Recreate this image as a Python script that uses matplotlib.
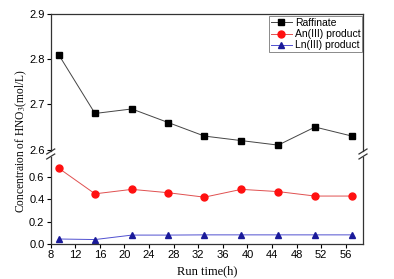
import numpy as np
import matplotlib.pyplot as plt

run_time = [9.3, 15.2, 21.2, 27.1, 33, 39, 45, 51, 57]
raffinate = [2.81, 2.68, 2.69, 2.66, 2.63, 2.62, 2.61, 2.65, 2.63]
an_product = [0.68, 0.45, 0.49, 0.46, 0.42, 0.49, 0.47, 0.43, 0.43]
ln_product = [0.045, 0.04, 0.08, 0.08, 0.082, 0.082, 0.082, 0.082, 0.082]

x_ticks = list(range(8, 57, 4))
top_ticks = [2.6, 2.7, 2.8, 2.9]
bot_ticks = [0.0, 0.2, 0.4, 0.6]

plt.rcParams['font.family'] = ['Liberation Sans', 'DejaVu Sans']
plt.rcParams['font.size'] = 8

fig = plt.figure(figsize=(3.94, 2.79), dpi=100)
left, width = 0.1287, 0.7926
ax_top = fig.add_axes([left, 0.4588, width, 0.491])
ax_bot = fig.add_axes([left, 0.1254, width, 0.3118])

ms = 4.5
lw = 0.7
for ax in (ax_top, ax_bot):
    ax.plot(run_time, raffinate, '-s', color='#444444', mfc='black', mec='black',
            ms=ms, lw=lw, label='Raffinate')
    ax.plot(run_time, an_product, '-o', color='#e05050', mfc='#ff1010', mec='#ff1010',
            ms=ms + 0.5, lw=lw, label='An(III) product')
    ax.plot(run_time, ln_product, '-^', color='#5050d0', mfc='#1a1a9a', mec='#1a1a9a',
            ms=ms + 0.5, lw=lw, label='Ln(III) product')
    ax.set_xlim(8, 58.8)
    ax.tick_params(direction='out', length=3, width=0.8, labelsize=8, pad=1.5)
    for s in ax.spines.values():
        s.set_linewidth(0.9)
        s.set_color('#333333')

ax_top.set_ylim(2.597, 2.9)
ax_top.set_yticks(top_ticks)
ax_top.set_yticklabels(['2.6', '2.7', '2.8', '2.9'])
ax_top.spines['bottom'].set_visible(False)
ax_top.tick_params(axis='x', which='both', bottom=False, labelbottom=False)

ax_bot.set_ylim(0, 0.78)
ax_bot.set_yticks(bot_ticks)
ax_bot.set_yticklabels(['0.0', '0.2', '0.4', '0.6'])
ax_bot.set_xticks(x_ticks)
ax_bot.spines['top'].set_visible(False)

# break marks
fig_w, fig_h = 394, 279
for xb in (left, left + width):
    for yb in (151.5, 156.5):
        xs = [xb - 4 / fig_w, xb + 4 / fig_w]
        ys = [1 - (yb + 2.5) / fig_h, 1 - (yb - 2.5) / fig_h]
        fig.add_artist(plt.Line2D(xs, ys, color='#333333', lw=0.9))

leg = ax_top.legend(loc='upper right', bbox_to_anchor=(0.998, 0.985), fontsize=7.5,
                    frameon=True, fancybox=False, edgecolor='#555555', borderpad=0.2,
                    labelspacing=0.1, handlelength=2.0, handletextpad=0.3, borderaxespad=0)
leg.get_frame().set_linewidth(0.6)

fig.text(0.055, 0.495, 'Concentraion of HNO$_3$(mol/L)', rotation=90, va='center', ha='center',
         family=['Liberation Serif'], fontsize=8.3, math_fontfamily='stix')
fig.text(left + width / 2, 0.027, 'Run time(h)', ha='center', va='center',
         family=['Liberation Serif'], fontsize=9)

fig.savefig('out.png', dpi=100)
